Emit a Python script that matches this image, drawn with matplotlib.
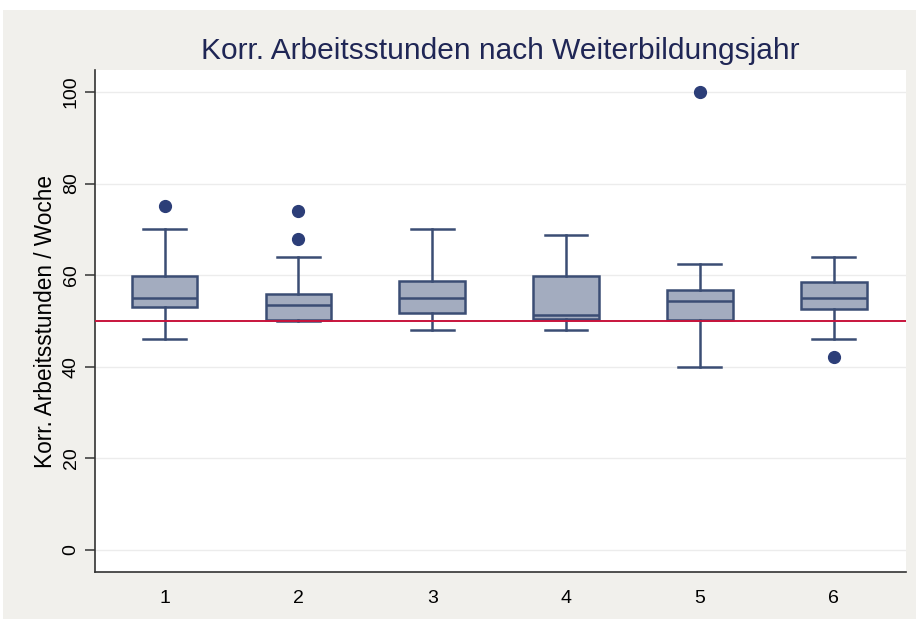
import matplotlib
matplotlib.use('Agg')
import matplotlib.pyplot as plt
from matplotlib.patches import Rectangle

jahre = ['1', '2', '3', '4', '5', '6']
whisker_low = [46, 50, 48, 48, 40, 46]
q1 = [53.1, 50.2, 51.7, 50.4, 50.2, 52.7]
median = [55, 53.5, 55, 51.3, 54.4, 55]
q3 = [59.8, 55.8, 58.8, 59.8, 56.8, 58.5]
whisker_high = [70, 64, 70, 68.8, 62.4, 64]
ausreisser = [[75], [74, 68], [], [], [100], [42.2]]
referenz = 50

box_fill = '#a3acbf'
box_edge = '#3b4d74'
dot_color = '#2c3e78'


def build_stats():
    stats = []
    for i in range(len(jahre)):
        stats.append({
            'label': jahre[i],
            'whislo': whisker_low[i],
            'q1': q1[i],
            'med': median[i],
            'q3': q3[i],
            'whishi': whisker_high[i],
            'fliers': ausreisser[i],
        })
    return stats


def plot_boxes(stats):
    fig = plt.figure(figsize=(9.16, 6.19), dpi=100, facecolor='white')
    fig.patches.append(Rectangle((3 / 916, 0), 1, 1 - 10 / 619,
                                 transform=fig.transFigure,
                                 facecolor='#f1f0ec', edgecolor='none', zorder=-10))
    ax = fig.add_axes([95 / 916, 47 / 619, 811 / 916, 502 / 619])
    ax.set_facecolor('white')

    ax.bxp(stats, positions=range(1, 7), widths=0.49, patch_artist=True,
           showfliers=True,
           boxprops=dict(facecolor=box_fill, edgecolor=box_edge, linewidth=1.8),
           medianprops=dict(color=box_edge, linewidth=1.8),
           whiskerprops=dict(color=box_edge, linewidth=1.8),
           capprops=dict(color=box_edge, linewidth=1.8),
           capwidths=0.32,
           flierprops=dict(marker='o', markerfacecolor=dot_color,
                           markeredgecolor=dot_color, markersize=8.5),
           zorder=3)

    ax.axhline(referenz, color='#c8143c', linewidth=1.4, zorder=4)

    ax.set_xlim(0.48, 6.54)
    ax.set_ylim(-4.8, 104.8)
    ax.set_yticks([0, 20, 40, 60, 80, 100])
    ax.set_yticklabels(['0', '20', '40', '60', '80', '100'], rotation=90, va='center')
    ax.grid(axis='y', color='#ececec', linewidth=1.0, zorder=0)
    ax.set_axisbelow(True)

    for s in ['top', 'right']:
        ax.spines[s].set_visible(False)
    for s in ['left', 'bottom']:
        ax.spines[s].set_color('#333333')
        ax.spines[s].set_linewidth(1.2)

    ax.tick_params(axis='y', length=7, width=1.1, color='#333333',
                   labelsize=14, pad=4)
    ax.tick_params(axis='x', length=0, labelsize=14, pad=13)

    ax.set_ylabel('Korr. Arbeitsstunden / Woche', fontsize=16.3, labelpad=4)
    ax.set_title('Korr. Arbeitsstunden nach Weiterbildungsjahr', fontsize=21.5,
                 color='#1f2655', pad=8)

    fig.savefig('out.png', dpi=100, facecolor=fig.get_facecolor())


def main():
    plt.rcParams['font.family'] = ['Liberation Sans', 'DejaVu Sans']
    plot_boxes(build_stats())


if __name__ == "__main__":
    main()
